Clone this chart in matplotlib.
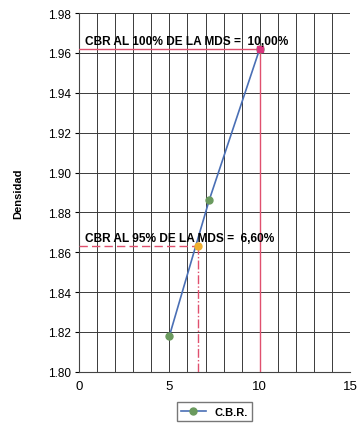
import numpy as np
import matplotlib.pyplot as plt
from matplotlib.ticker import MultipleLocator

plt.rcParams['font.family'] = ['Liberation Sans', 'DejaVu Sans']

# ensayo C.B.R.: penetracion vs densidad seca
cbr = [5.0, 7.2, 10.0]
densidad = [1.818, 1.886, 1.962]

cbr_100 = 10.0
dens_100 = 1.962
cbr_95 = 6.6
dens_95 = 1.863

label_100 = "CBR AL 100% DE LA MDS =  10,00%"
label_95 = "CBR AL 95% DE LA MDS =  6,60%"

fig = plt.figure(figsize=(3.63, 4.27), dpi=100)
ax = fig.add_axes([0.218, 0.127, 0.746, 0.84])

ax.set_xlim(0, 15)
ax.set_ylim(1.80, 1.98)
ax.xaxis.set_major_locator(MultipleLocator(5))
ax.xaxis.set_minor_locator(MultipleLocator(1))
ax.yaxis.set_major_locator(MultipleLocator(0.02))
ax.yaxis.set_major_formatter(plt.FormatStrFormatter('%.2f'))
ax.grid(which='both', color='#3a3a3a', linewidth=0.7)
ax.set_axisbelow(True)
ax.tick_params(axis='x', which='both', length=0, pad=6, labelsize=9.5)
ax.tick_params(axis='y', length=3, labelsize=8.5, pad=3)
for s in ['top', 'right']:
    ax.spines[s].set_visible(False)
ax.spines['left'].set_color('#444444')
ax.spines['bottom'].set_color('#444444')

# lineas de referencia 100%
ax.plot([0, cbr_100], [dens_100, dens_100], color='#e0506e', lw=1.0, zorder=3)
ax.plot([cbr_100, cbr_100], [1.80, dens_100], color='#e0506e', lw=1.0, zorder=3)
# lineas de referencia 95%
ax.plot([0, cbr_95], [dens_95, dens_95], color='#e0506e', lw=1.0, ls=(0, (6, 3)), zorder=3)
ax.plot([cbr_95, cbr_95], [1.80, dens_95], color='#e0506e', lw=1.0, ls='-.', zorder=3)

ax.plot(cbr, densidad, color='#4a6fb5', lw=1.2, marker='o', ms=5,
        mfc='#6a9a5e', mec='#6a9a5e', label='C.B.R.', zorder=4)
ax.plot([cbr_100], [dens_100], marker='s', ms=5, color='#d8357e', ls='none', zorder=5)
ax.plot([cbr_95], [dens_95], marker='o', ms=5, color='#f0b030', ls='none', zorder=5)

ax.text(0.3, dens_100 + 0.001, label_100, fontsize=8.6, fontweight='bold',
        ha='left', va='bottom', zorder=6)
ax.text(0.3, dens_95 + 0.001, label_95, fontsize=8.6, fontweight='bold',
        ha='left', va='bottom', zorder=6)

ax.set_ylabel('Densidad', fontsize=8, fontweight='bold', labelpad=18)

leg = ax.legend(loc='upper center', bbox_to_anchor=(0.5, -0.07),
                frameon=True, fancybox=False, edgecolor='#555555', handlelength=2.2,
                prop={'weight': 'bold', 'size': 8})

fig.savefig('out.png', dpi=100)
